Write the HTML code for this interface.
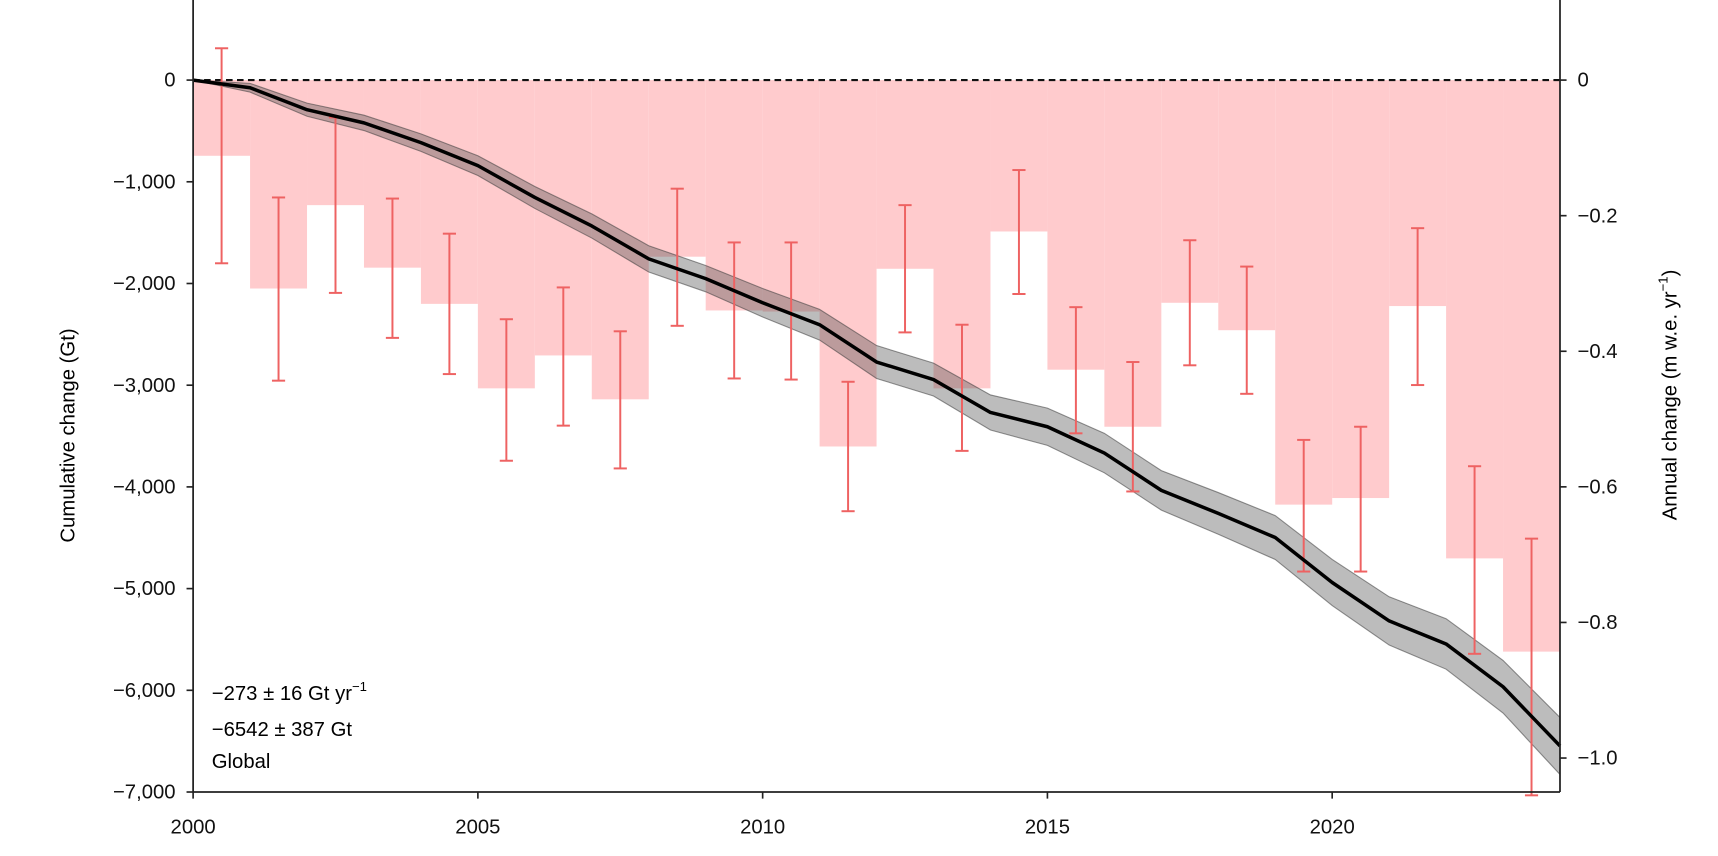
<!DOCTYPE html>
<html><head><meta charset="utf-8"><style>
html,body{margin:0;padding:0;background:#fff;overflow:hidden}
svg{display:block;font-family:"Liberation Sans",sans-serif}
</style></head><body>
<svg id="s" width="1718" height="856" viewBox="0 0 1566 780.3" xmlns="http://www.w3.org/2000/svg">
<g id="bars"></g>
<g id="band"></g>
<line x1="176" y1="73" x2="1422" y2="73" stroke="#111" stroke-width="2" stroke-dasharray="6,4"/>
<g id="err"></g>
<polyline id="ln" fill="none" stroke="#000" stroke-width="3.2" stroke-linejoin="round"/>
<g stroke="#222" stroke-width="1.6" fill="none">
<line x1="176" y1="0" x2="176" y2="722"/>
<line x1="1422" y1="0" x2="1422" y2="722"/>
<line x1="176" y1="722" x2="1422" y2="722"/>
</g>
<g id="ticks" stroke="#222" stroke-width="1.5"></g>
<g id="labels" font-size="18.5" fill="#111"></g>
<text x="193" y="638" font-size="18.5">−273 ± 16 Gt yr<tspan dy="-8" font-size="12">−1</tspan></text>
<text x="193" y="671" font-size="18.5">−6542 ± 387 Gt</text>
<text x="193" y="700" font-size="18.5">Global</text>
<text transform="translate(68,397) rotate(-90)" text-anchor="middle" font-size="18.5">Cumulative change (Gt)</text>
<text transform="translate(1528,360) rotate(-90)" text-anchor="middle" font-size="18.5">Annual change (m w.e. yr<tspan dy="-8" font-size="12">−1</tspan><tspan dy="8">)</tspan></text>
<text x="760" y="795" text-anchor="middle" font-size="18.5">Year</text>
</svg>
<script>
var NS="http://www.w3.org/2000/svg";
function X(y){return 176+(y-2000)*51.917;}
function el(p,t,a,txt){var e=document.createElementNS(NS,t);for(var k in a)e.setAttribute(k,a[k]);if(txt!=null)e.textContent=txt;document.getElementById(p).appendChild(e);return e;}
var bars=[142,263,187,244,277,354,324,364,234,283,284,407,245,354,211,337,389,276,301,460,454,279,509,594];
var errs=[[44,240],[180,347],[107,267],[181,308],[213,341],[291,420],[262,388],[302,427],[172,297],[221,345],[221,346],[348,466],[187,303],[296,411],[155,268],[280,395],[330,448],[219,333],[243,359],[401,521],[389,521],[208,351],[425,596],[491,725]];
for(var i=0;i<24;i++){
 el("bars","rect",{x:X(2000+i),y:73,width:51.92,height:bars[i]-73,fill:"#ffcbcd"});
 var cx=X(2000.5+i);
 el("err","line",{x1:cx,y1:errs[i][0],x2:cx,y2:errs[i][1],stroke:"#ee6262","stroke-width":1.8});
 el("err","line",{x1:cx-6,y1:errs[i][0],x2:cx+6,y2:errs[i][0],stroke:"#ee6262","stroke-width":1.8});
 el("err","line",{x1:cx-6,y1:errs[i][1],x2:cx+6,y2:errs[i][1],stroke:"#ee6262","stroke-width":1.8});
}
var L=[73,80,100,112,130,151,180,206,236,254,276,296,330,346,376,389,413,447,468,490,531,566,587,626,680];
var W=[0,4,6,7,8,9,10,11,12,12,13,14,15,15,16,17,18,18,19,20,21,22,23,24,26];
var up=[],lo=[],pts=[];
for(var i=0;i<25;i++){up.push(X(2000+i)+","+(L[i]-W[i]));lo.unshift(X(2000+i)+","+(L[i]+W[i]));pts.push(X(2000+i)+","+L[i]);}
el("band","polygon",{points:up.concat(lo).join(" "),fill:"rgba(70,70,70,0.36)",stroke:"rgba(60,60,60,0.55)","stroke-width":1});
document.getElementById("ln").setAttribute("points",pts.join(" "));
var yl=["0","−1,000","−2,000","−3,000","−4,000","−5,000","−6,000","−7,000"];
for(var k=0;k<8;k++){var y=73+k*92.71;el("ticks","line",{x1:170,y1:y,x2:176,y2:y});el("labels","text",{x:160,y:y+6,"text-anchor":"end"},yl[k]);}
var rl=["0","−0.2","−0.4","−0.6","−0.8","−1.0"];
for(var k=0;k<6;k++){var y=73+k*123.6;el("ticks","line",{x1:1422,y1:y,x2:1428,y2:y});el("labels","text",{x:1438,y:y+6},rl[k]);}
for(var k=0;k<5;k++){var x=X(2000+5*k);el("ticks","line",{x1:x,y1:722,x2:x,y2:728});el("labels","text",{x:x,y:760,"text-anchor":"middle"},String(2000+5*k));}
</script>
</body></html>
